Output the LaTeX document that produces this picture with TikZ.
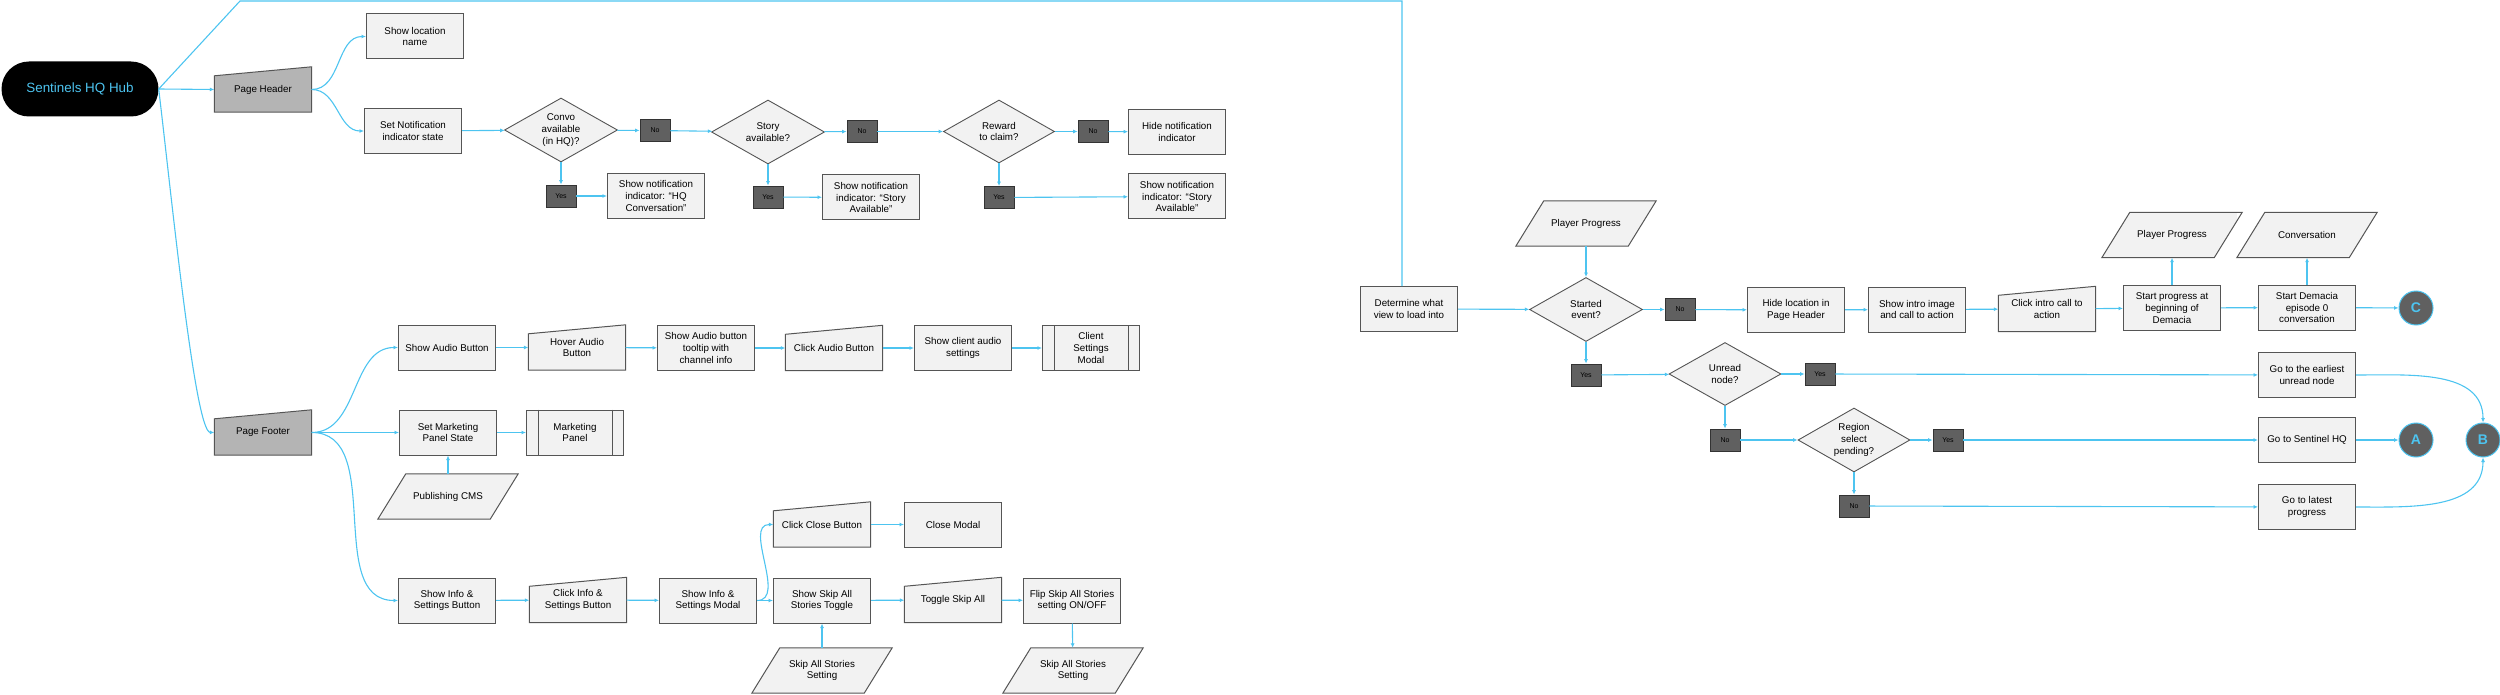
\documentclass[tikz,border=0pt]{standalone}
\usepackage{fontspec}
\setmainfont{Liberation Sans}
\usepackage{tikz}
\usetikzlibrary{
  arrows.meta,
  shapes.geometric,
  calc,
  positioning
}
\definecolor{flowCyan}{RGB}{77,196,240}
\definecolor{boxFill}{RGB}{242,242,242}
\definecolor{boxLine}{RGB}{85,85,85}
\definecolor{headFill}{RGB}{180,180,180}
\definecolor{darkFill}{RGB}{96,96,96}
\newcommand{\boxFont}{\fontsize{9.8}{11.7}\selectfont}
\newcommand{\tagFont}{\fontsize{7}{8}\selectfont}
\newcommand{\hubFont}{\fontsize{13.4}{15}\selectfont}
\newcommand{\circFont}{\fontsize{14}{15}\selectfont\bfseries}
\tikzset{
  flow/.style={draw=flowCyan, line width=1.1pt, -{Latex[length=4.5pt,width=4pt]}},
  flowPlain/.style={draw=flowCyan, line width=1.1pt},
  edgeLine/.style={draw=boxLine, line width=1pt},
  proc/.style={
    draw=boxLine, line width=1pt, fill=boxFill,
    minimum width=97pt, minimum height=45pt, inner sep=1pt,
    align=center, font=\boxFont
  },
  predef/.style={proc},
  manual/.style={
    fill=white, minimum width=97pt, minimum height=45pt, inner sep=1pt,
    align=center, font=\boxFont,
    path picture={
      \fill[#1] (path picture bounding box.south west) -- (path picture bounding box.south east)
        -- (path picture bounding box.north east) -- ([yshift=-9pt]path picture bounding box.north west) -- cycle;
    }
  },
  manual/.default=boxFill,
  data/.style={
    fill=white, minimum width=140pt, minimum height=45pt, inner sep=1pt,
    align=center, font=\boxFont,
    path picture={
      \fill[boxFill] (path picture bounding box.south west) -- ([xshift=-28pt]path picture bounding box.south east)
        -- (path picture bounding box.north east) -- ([xshift=28pt]path picture bounding box.north west) -- cycle;
    }
  },
  decide/.style={
    diamond, aspect=1.76, draw=boxLine, line width=0.9pt, fill=boxFill,
    minimum width=113pt, minimum height=64pt, inner sep=0pt,
    align=center, font=\boxFont
  },
  tag/.style={
    draw=black!80, line width=0.8pt, fill=darkFill,
    minimum width=30pt, minimum height=22pt, inner sep=0pt, font=\tagFont
  },
  hubBox/.style={
    fill=black, rounded corners=27.5pt, minimum width=157pt, minimum height=55pt,
    text=flowCyan, font=\hubFont
  },
  endCircle/.style={
    circle, fill=darkFill, draw=flowCyan, line width=1pt, minimum size=34pt,
    inner sep=0pt, text=flowCyan, font=\circFont
  },
}

\begin{document}
\begin{tikzpicture}[x=1pt, y=-1pt]
\useasboundingbox (0,0) rectangle (2500,695);

% --- hub ---
\node[hubBox] (hub) at (80,89) {Sentinels HQ Hub};

% --- page header ---
\node[manual=headFill] (ph) at (263,89.5) {Page Header};
\node[proc] (loc) at (415,36.5) {Show location\\name};
\node[proc] (setn) at (413,131) {Set Notification\\indicator state};
\node[decide] (convo) at (561,130) {Convo\\available\\(in HQ)?};
\node[tag] (no1) at (655,130.5) {No};
\node[decide] (story) at (768,132) {Story\\available?};
\node[tag] (no2) at (862,131.5) {No};
\node[decide, minimum width=111pt, minimum height=63pt] (reward) at (999,131.5) {Reward\\to claim?};
\node[tag] (no3) at (1093,131.5) {No};
\node[proc] (hide) at (1177,132) {Hide notification\\indicator};
\node[tag] (yes1) at (561,196) {Yes};
\node[proc] (notifHq) at (656,196) {Show notification\\indicator: “HQ\\Conversation”};
\node[tag] (yes2) at (768,197) {Yes};
\node[proc] (notifStory) at (871,197.5) {Show notification\\indicator: “Story\\Available”};
\node[tag] (yes3) at (999,197.5) {Yes};
\node[proc] (notifReward) at (1177,196.5) {Show notification\\indicator: “Story\\Available”};

% --- page footer ---
\node[manual=headFill] (pf) at (263,432.5) {Page Footer};
\node[proc] (audio) at (447,347.5) {Show Audio Button};
\node[manual] (hover) at (577,347.5) {Hover Audio\\Button};
\node[proc] (tooltip) at (706,348) {Show Audio button\\tooltip with\\channel info};
\node[manual] (clickAudio) at (834,348) {Click Audio Button};
\node[proc] (clientAudio) at (963,348) {Show client audio\\settings};
\node[predef] (clientModal) at (1091,348) {Client\\Settings\\Modal};
\node[proc] (mkt) at (448,432.5) {Set Marketing\\Panel State};
\node[predef] (mktPanel) at (575,432.5) {Marketing\\Panel};
\node[data] (cms) at (448,496.5) {Publishing CMS};
\node[proc] (infoBtn) at (447,600.5) {Show Info \&\\Settings Button};
\node[manual] (clickInfo) at (578,600) {Click Info \&\\Settings Button};
\node[proc] (infoModal) at (708,600.5) {Show Info \&\\Settings Modal};
\node[manual] (clickClose) at (822,524.5) {Click Close Button};
\node[proc] (closeModal) at (953,524.5) {Close Modal};
\node[proc] (skipToggle) at (822,600.5) {Show Skip All\\Stories Toggle};
\node[manual] (toggleSkip) at (953,600) {Toggle Skip All};
\node[proc] (flip) at (1072,600.5) {Flip Skip All Stories\\setting ON/OFF};
\node[data] (skipSetA) at (822,670.5) {Skip All Stories\\Setting};
\node[data] (skipSetB) at (1073,670.5) {Skip All Stories\\Setting};

% --- view routing ---
\node[proc] (determine) at (1409,309) {Determine what\\view to load into};
\node[data] (progA) at (1586,223.5) {Player Progress};
\node[decide] (started) at (1586,309.5) {Started\\event?};
\node[tag] (noStart) at (1680,309.5) {No};
\node[proc] (hideLoc) at (1796,310) {Hide location in\\Page Header};
\node[proc] (intro) at (1917,309.5) {Show intro image\\and call to action};
\node[manual] (clickIntro) at (2047,309) {Click intro call to\\action};
\node[proc] (startProg) at (2172,308) {Start progress at\\beginning of\\Demacia};
\node[data] (progB) at (2172,235) {Player Progress};
\node[proc] (startDem) at (2307,307.5) {Start Demacia\\episode 0\\conversation};
\node[data] (conv) at (2307,235) {Conversation};
\node[endCircle] (endC) at (2416,308) {C};
\node[tag] (yesStart) at (1586,375) {Yes};
\node[decide, minimum width=112pt, minimum height=63pt] (unread) at (1725,374) {Unread\\node?};
\node[tag] (yesUnread) at (1820,374) {Yes};
\node[proc] (earliest) at (2307,375) {Go to the earliest\\unread node};
\node[tag] (noUnread) at (1725,440) {No};
\node[decide, minimum width=112pt] (region) at (1854,440) {Region\\select\\pending?};
\node[tag] (yesRegion) at (1948,440) {Yes};
\node[proc] (sentinel) at (2307,440) {Go to Sentinel HQ};
\node[endCircle] (endA) at (2416,440) {A};
\node[endCircle] (endB) at (2483,440) {B};
\node[tag] (noRegion) at (1854,506) {No};
\node[proc] (latest) at (2307,507) {Go to latest\\progress};

% --- outlines of the odd shapes ---
\foreach \n in {ph, pf, hover, clickAudio, clickInfo, clickClose, toggleSkip, clickIntro}
  \draw[edgeLine] (\n.south west) -- (\n.south east) -- (\n.north east)
    -- ([yshift=-9pt]\n.north west) -- cycle;
\foreach \n in {cms, skipSetA, skipSetB, progA, progB, conv}
  \draw[edgeLine] (\n.south west) -- ([xshift=-28pt]\n.south east) -- (\n.north east)
    -- ([xshift=28pt]\n.north west) -- cycle;
\foreach \n in {clientModal, mktPanel}
  \draw[edgeLine] ([xshift=12pt]\n.north west) -- ([xshift=12pt]\n.south west)
    ([xshift=-12pt]\n.north east) -- ([xshift=-12pt]\n.south east);

% --- connectors: hub ---
\coordinate (topL) at (240,1);
\coordinate (topR) at (1402,1);
\draw[flowPlain] (hub.east) -- (topL) -- (topR) -- (topR |- determine.north);
\draw[flow] (hub.east) -- (ph.west);
\draw[flow] (hub.east) .. controls (172,200) and (195,432) .. (pf.west);

% --- connectors: header ---
\draw[flow] (ph.east) to[out=0,in=180] (loc.west);
\draw[flow] (ph.east) to[out=0,in=180] (setn.west);
\foreach \a/\b in {setn/convo, convo/no1, no1/story, story/no2, no2/reward, reward/no3, no3/hide,
                   convo/yes1, yes1/notifHq, story/yes2, yes2/notifStory, reward/yes3, yes3/notifReward}
  \draw[flow] (\a) -- (\b);

% --- connectors: footer ---
\draw[flow] (pf.east) to[out=0,in=180] (audio.west);
\draw[flow] (pf.east) to[out=0,in=180] (infoBtn.west);
\draw[flow] (infoModal.east) to[out=0,in=180] (clickClose.west);
\foreach \a/\b in {pf/mkt, audio/hover, hover/tooltip, tooltip/clickAudio, clickAudio/clientAudio,
                   clientAudio/clientModal, mkt/mktPanel, cms/mkt, infoBtn/clickInfo, clickInfo/infoModal,
                   infoModal/skipToggle, skipToggle/toggleSkip, toggleSkip/flip, clickClose/closeModal,
                   skipSetA/skipToggle, flip/skipSetB}
  \draw[flow] (\a) -- (\b);

% --- connectors: view routing ---
\foreach \a/\b in {determine/started, progA/started, started/noStart, noStart/hideLoc, hideLoc/intro,
                   intro/clickIntro, clickIntro/startProg, startProg/startDem, startDem/endC,
                   startProg/progB, startDem/conv, started/yesStart, yesStart/unread, unread/yesUnread,
                   yesUnread/earliest, unread/noUnread, noUnread/region, region/yesRegion,
                   yesRegion/sentinel, sentinel/endA, region/noRegion, noRegion/latest}
  \draw[flow] (\a) -- (\b);
\draw[flow] (earliest.east) to[out=0,in=90] (endB.north);
\draw[flow] (latest.east) to[out=0,in=-90] (endB.south);

\end{tikzpicture}
\end{document}
